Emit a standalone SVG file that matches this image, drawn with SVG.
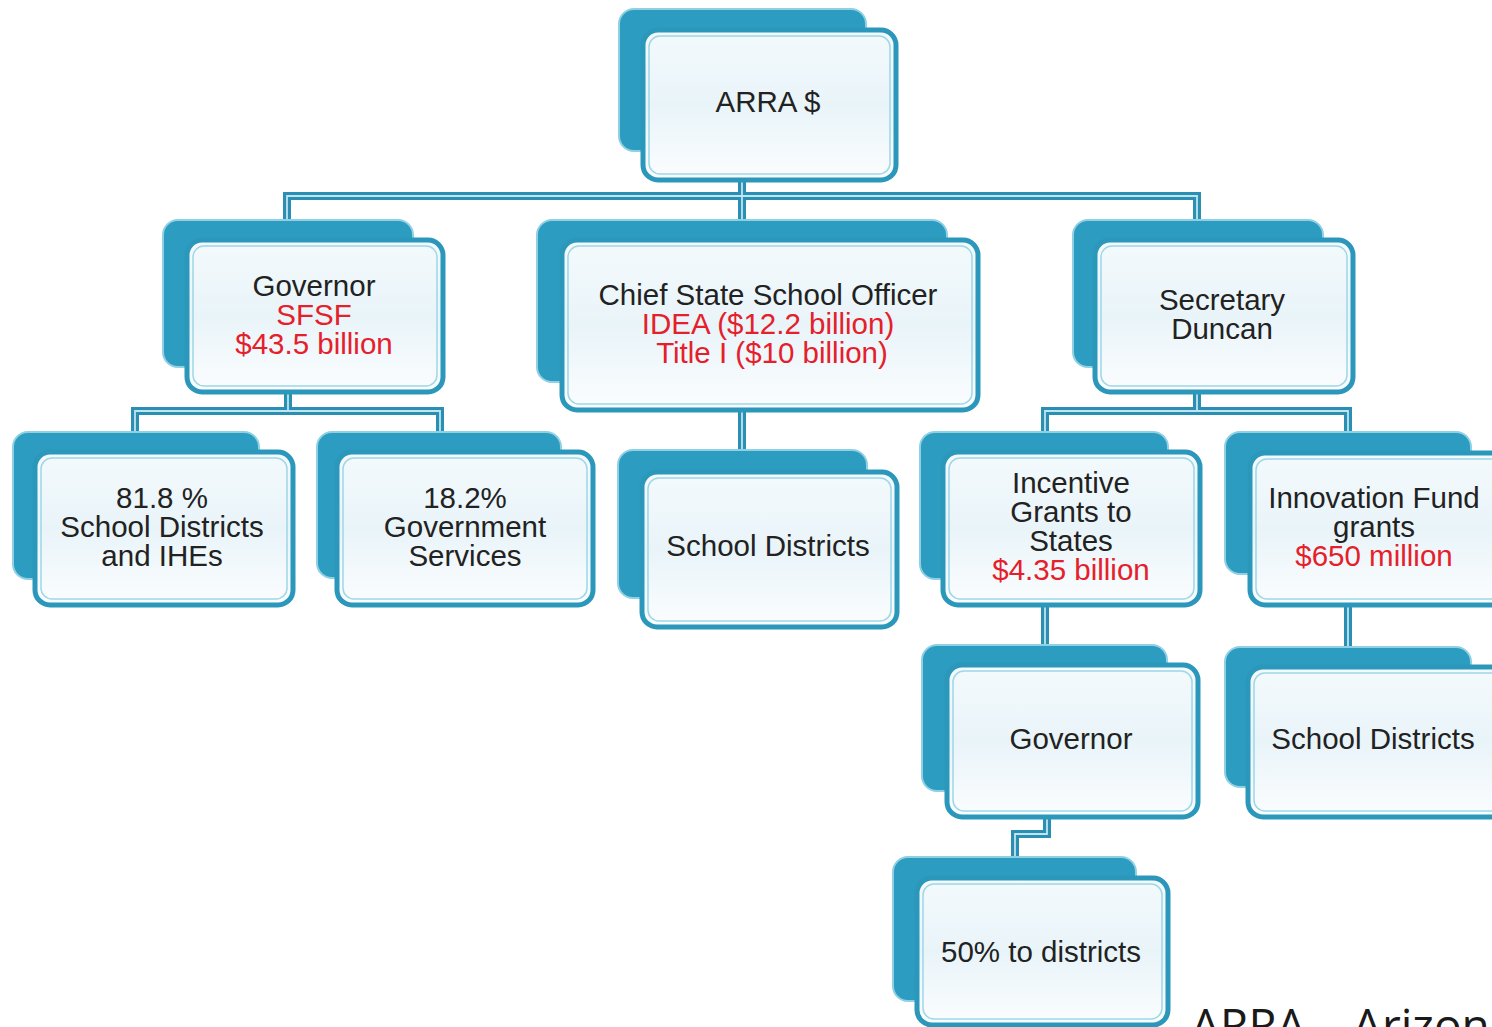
<svg xmlns="http://www.w3.org/2000/svg" width="1492" height="1027" viewBox="0 0 1492 1027">
<style>
.back{fill:#2c9cc0;stroke:#8fd0e4;stroke-width:2}
.front{fill:url(#fg);stroke:#2b97bb;stroke-width:5}
.inner{fill:none;stroke:#9fd6e8;stroke-width:1.5}
.t{font-family:"Liberation Sans",Arial,sans-serif;font-size:29.5px;fill:#222;text-anchor:middle}
.r{fill:#e5202b}
.c1{fill:none;stroke:#2a8fb3;stroke-width:8;stroke-linejoin:miter}
.c2{fill:none;stroke:#bfe5f0;stroke-width:1.8}
</style>
<defs>
<linearGradient id="fg" x1="0" y1="0" x2="0" y2="1">
<stop offset="0" stop-color="#f4fafc"/>
<stop offset="0.5" stop-color="#e9f4f9"/>
<stop offset="1" stop-color="#fbfdfe"/>
</linearGradient>
</defs>
<rect width="1492" height="1027" fill="#fff"/>
<g id="connectors">
<path class="c1" d="M742 180V222M287 222V196H1197V222M288 392V411H135V433M288 411H440V433M742 410V451M1197 392V411H1045V433M1197 411H1348V433M1045 605V646M1348 605V648M1047 817V834H1015V858"/>
<path class="c2" d="M742 180V222M287 222V196H1197V222M288 392V411H135V433M288 411H440V433M742 410V451M1197 392V411H1045V433M1197 411H1348V433M1045 605V646M1348 605V648M1047 817V834H1015V858"/>
</g>
<g id="n-arra">
<rect class="back" x="619" y="9" width="247" height="142" rx="15"/>
<rect class="front" x="643" y="30" width="253" height="150" rx="15"/>
<rect class="inner" x="649" y="36" width="241" height="138" rx="11"/>
<text class="t" x="768" y="112">ARRA $</text>
</g>
<g id="n-governor">
<rect class="back" x="163" y="220" width="250" height="147" rx="15"/>
<rect class="front" x="187" y="240" width="256" height="152" rx="15"/>
<rect class="inner" x="193" y="246" width="244" height="140" rx="11"/>
<text class="t" x="314" y="296">Governor</text>
<text class="t r" x="314" y="325">SFSF</text>
<text class="t r" x="314" y="354">$43.5 billion</text>
</g>
<g id="n-chief">
<rect class="back" x="537" y="220" width="410" height="162" rx="15"/>
<rect class="front" x="562" y="240" width="416" height="170" rx="15"/>
<rect class="inner" x="568" y="246" width="404" height="158" rx="11"/>
<text class="t" x="768" y="305">Chief State School Officer</text>
<text class="t r" x="768" y="334">IDEA ($12.2 billion)</text>
<text class="t r" x="772" y="363">Title I ($10 billion)</text>
</g>
<g id="n-secretary">
<rect class="back" x="1073" y="220" width="250" height="147" rx="15"/>
<rect class="front" x="1095" y="240" width="258" height="152" rx="15"/>
<rect class="inner" x="1101" y="246" width="246" height="140" rx="11"/>
<text class="t" x="1222" y="310">Secretary</text>
<text class="t" x="1222" y="339">Duncan</text>
</g>
<g id="n-818">
<rect class="back" x="13" y="432" width="246" height="147" rx="15"/>
<rect class="front" x="35" y="452" width="258" height="153" rx="15"/>
<rect class="inner" x="41" y="458" width="246" height="141" rx="11"/>
<text class="t" x="162" y="508">81.8 %</text>
<text class="t" x="162" y="537">School Districts</text>
<text class="t" x="162" y="566">and IHEs</text>
</g>
<g id="n-182">
<rect class="back" x="317" y="432" width="244" height="146" rx="15"/>
<rect class="front" x="337" y="452" width="256" height="153" rx="15"/>
<rect class="inner" x="343" y="458" width="244" height="141" rx="11"/>
<text class="t" x="465" y="508">18.2%</text>
<text class="t" x="465" y="537">Government</text>
<text class="t" x="465" y="566">Services</text>
</g>
<g id="n-sd-center">
<rect class="back" x="618" y="450" width="249" height="148" rx="15"/>
<rect class="front" x="642" y="472" width="255" height="155" rx="15"/>
<rect class="inner" x="648" y="478" width="243" height="143" rx="11"/>
<text class="t" x="768" y="556">School Districts</text>
</g>
<g id="n-incentive">
<rect class="back" x="920" y="432" width="248" height="147" rx="15"/>
<rect class="front" x="943" y="452" width="257" height="153" rx="15"/>
<rect class="inner" x="949" y="458" width="245" height="141" rx="11"/>
<text class="t" x="1071" y="493">Incentive</text>
<text class="t" x="1071" y="522">Grants to</text>
<text class="t" x="1071" y="551">States</text>
<text class="t r" x="1071" y="580">$4.35 billion</text>
</g>
<g id="n-innovation">
<rect class="back" x="1225" y="432" width="246" height="142" rx="15"/>
<rect class="front" x="1250" y="453" width="262" height="152" rx="15"/>
<rect class="inner" x="1256" y="459" width="250" height="140" rx="11"/>
<text class="t" x="1374" y="508">Innovation Fund</text>
<text class="t" x="1374" y="537">grants</text>
<text class="t r" x="1374" y="566">$650 million</text>
</g>
<g id="n-governor2">
<rect class="back" x="922" y="645" width="245" height="146" rx="15"/>
<rect class="front" x="947" y="665" width="251" height="152" rx="15"/>
<rect class="inner" x="953" y="671" width="239" height="140" rx="11"/>
<text class="t" x="1071" y="749">Governor</text>
</g>
<g id="n-sd-right">
<rect class="back" x="1225" y="647" width="246" height="140" rx="15"/>
<rect class="front" x="1248" y="667" width="262" height="150" rx="15"/>
<rect class="inner" x="1254" y="673" width="250" height="138" rx="11"/>
<text class="t" x="1373" y="749">School Districts</text>
</g>
<g id="n-50">
<rect class="back" x="893" y="857" width="243" height="144" rx="15"/>
<rect class="front" x="917" y="878" width="251" height="147" rx="15"/>
<rect class="inner" x="923" y="884" width="239" height="135" rx="11"/>
<text class="t" x="1041" y="962">50% to districts</text>
</g>
<text x="1191" y="1042" style="font-family:'Open Sans','Noto Sans',sans-serif;font-size:46px;fill:#1a1a1a">ARRA – Arizona</text>
</svg>
